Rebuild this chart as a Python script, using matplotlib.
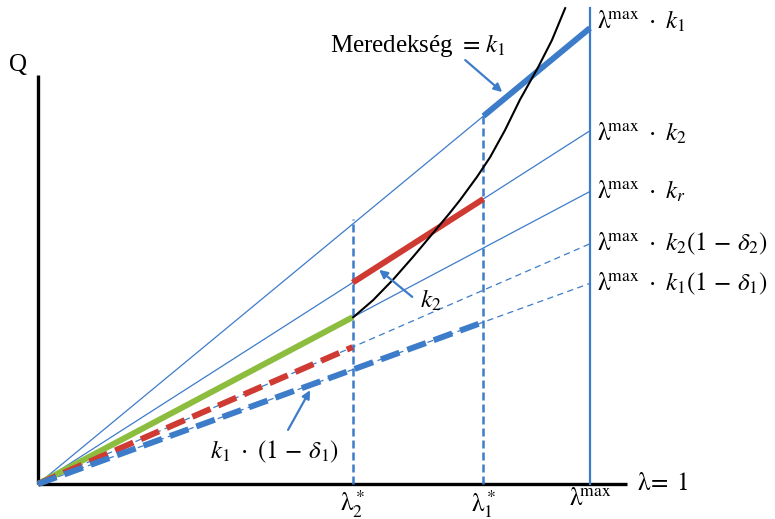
import matplotlib
matplotlib.use("Agg")
import matplotlib.pyplot as plt
import numpy as np

plt.rcParams['font.family'] = ['Liberation Serif', 'DejaVu Serif']
plt.rcParams['mathtext.fontset'] = 'stix'

# lambda positions
lam2 = 0.57
lam1 = 0.807
lam_max = 1.0
x_end = 1.067
q_end = 0.741

# slopes
k1 = 0.826
k2 = 0.64
kr = 0.53
d1 = 0.56
d2 = 0.32

# black curve
curve_x = [0.571, 0.607, 0.643, 0.679, 0.716, 0.746, 0.765, 0.795,
           0.819, 0.846, 0.873, 0.906, 0.931, 0.955]
curve_y = [0.302, 0.333, 0.370, 0.411, 0.455, 0.491, 0.515, 0.556,
           0.592, 0.641, 0.696, 0.755, 0.804, 0.862]

blue = "#3d7cc9"
red = "#cf3a33"
green = "#8cbd3f"

fig = plt.figure(figsize=(7.75, 5.19), dpi=100)
ax = fig.add_axes([0, 0, 1, 1])
ax.set_xlim(-0.0688, 1.3351)
ax.set_ylim(-0.0634, 0.8768)
ax.axis("off")

# axes
ax.plot([0, 0], [0, q_end], color="black", lw=2.4, solid_capstyle="butt")
ax.plot([0, x_end], [0, 0], color="black", lw=2.4, solid_capstyle="butt")

# thin lines from origin
ax.plot([0, lam1], [0, k1 * lam1], color=blue, lw=0.9)
ax.plot([0, lam_max], [0, k2 * lam_max], color=blue, lw=0.9)
ax.plot([0, lam_max], [0, kr * lam_max], color=blue, lw=0.9)
ax.plot([0, lam_max], [0, k2 * (1 - d2) * lam_max], color=blue, lw=0.9, ls=(0, (5, 3.5)))
ax.plot([0, lam_max], [0, k1 * (1 - d1) * lam_max], color=blue, lw=0.9, ls=(0, (5, 3.5)))

# vertical lines
ax.plot([lam2, lam2], [0, k1 * lam2 + 0.01], color=blue, lw=1.8, ls=(0, (3.2, 1.6)))
ax.plot([lam1, lam1], [0, k1 * lam1], color=blue, lw=1.8, ls=(0, (3.2, 1.6)))
ax.plot([lam_max, lam_max], [0, 0.862], color=blue, lw=1.6)

# thick segments
ax.plot([0, lam2], [0, kr * lam2], color=green, lw=4.3, solid_capstyle="butt")
ax.plot([lam2, lam1], [k2 * lam2, k2 * lam1], color=red, lw=4.3, solid_capstyle="butt")
ax.plot([lam1, lam_max], [k1 * lam1, k1 * lam_max], color=blue, lw=4.3, solid_capstyle="butt")
ax.plot([0, lam2], [0, k2 * (1 - d2) * lam2], color=red, lw=4.3, ls=(0, (3.3, 1.4)))
ax.plot([0, lam1], [0, k1 * (1 - d1) * lam1], color=blue, lw=4.3, ls=(0, (3.3, 1.4)))

# curve
ax.plot(curve_x, curve_y, color="black", lw=1.5)

fs = 18
lmax = r"\mathrm{\lambda}^{\!\mathrm{max}}"
# right labels
right_labels = [
    (k1, r"$" + lmax + r"\ \cdot\ k_1$", 0.012),
    (k2, r"$" + lmax + r"\ \cdot\ k_2$", -0.005),
    (kr, r"$" + lmax + r"\ \cdot\ k_r$", 0.0),
    (k2 * (1 - d2), r"$" + lmax + r"\ \cdot\ k_2(1\,-\,\delta_2)$", 0.0),
    (k1 * (1 - d1), r"$" + lmax + r"\ \cdot\ k_1(1\,-\,\delta_1)$", 0.0),
]
for val, txt, off in right_labels:
    ax.text(lam_max + 0.012, val * lam_max + off, txt, fontsize=fs, va="center", ha="left")

# tick labels
ax.text(lam2, -0.008, r"$\mathrm{\lambda}_2^*$", fontsize=fs, ha="center", va="top")
ax.text(lam1, -0.008, r"$\mathrm{\lambda}_1^*$", fontsize=fs, ha="center", va="top")
ax.text(lam_max, -0.008, r"$" + lmax + "$", fontsize=fs, ha="center", va="top")
ax.text(x_end + 0.018, 0.0, r"$\mathrm{\lambda}\!=\ 1$", fontsize=fs, ha="left", va="center")
ax.text(-0.036, 0.759, "Q", fontsize=fs, ha="center", va="center")

# annotations
arrow = dict(arrowstyle="-|>", color=blue, lw=1.6, mutation_scale=12, shrinkA=0, shrinkB=0)
ax.text(0.529, 0.795, r"Meredekség $=\,k_1$", fontsize=fs, va="center", ha="left")
ax.annotate("", xy=(0.841, 0.710), xytext=(0.774, 0.768), arrowprops=arrow)
ax.annotate("", xy=(0.618, 0.388), xytext=(0.678, 0.339), arrowprops=arrow)
ax.text(0.692, 0.333, r"$k_2$", fontsize=fs, ha="left", va="center")
ax.annotate("", xy=(0.493, 0.170), xytext=(0.453, 0.098), arrowprops=arrow)
ax.text(0.429, 0.058, r"$k_1\ \cdot\ (1\,-\,\delta_1)$", fontsize=fs, ha="center", va="center")

fig.savefig("out.png", dpi=100)
